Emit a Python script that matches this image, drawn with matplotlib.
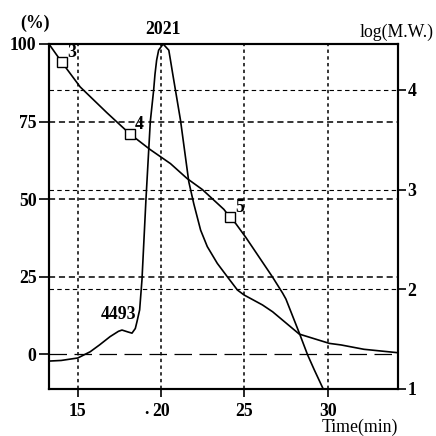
import matplotlib
matplotlib.use("Agg")
import matplotlib.pyplot as plt

plt.rcParams["font.family"] = ["Liberation Serif", "DejaVu Serif"]

# GPC trace (% response vs elution time)
trace_t = [13.27, 14.0, 15.0, 15.74, 16.3, 16.94, 17.44, 17.65, 18.0, 18.25,
           18.45, 18.55, 18.71, 18.85, 19.09, 19.35, 19.55, 19.63, 19.73,
           19.85, 20.12, 20.46, 20.56, 20.7, 20.86, 21.16, 21.66, 21.96,
           22.37, 22.77, 23.37, 23.97, 24.58, 24.98, 26.08, 26.69, 28.29,
           30.1, 30.8, 32.17, 34.2]
trace_pct = [-2.2, -2.0, -1.2, 0.8, 3.0, 5.7, 7.4, 7.8, 7.2, 6.8,
             8.3, 10.5, 14.3, 24.0, 50.0, 75.0, 85.1, 90.2, 94.8,
             98.0, 100.0, 98.0, 94.8, 90.2, 85.1, 75.5, 55.6, 48.5,
             40.0, 34.7, 29.3, 25.0, 20.7, 19.1, 15.9, 13.7, 6.5,
             3.5, 3.0, 1.6, 0.5]

# calibration curve log(M.W.) vs time
calib_t = [13.27, 14.03, 15.14, 16.75, 18.11, 19.35, 20.56, 21.56, 22.47,
           23.77, 24.13, 24.47, 25.08, 26.69, 27.29, 27.49, 28.29, 28.79,
           29.19, 29.72]
calib_logmw = [4.46, 4.28, 4.03, 3.77, 3.56, 3.40, 3.26, 3.11, 3.0,
               2.80, 2.72, 2.66, 2.52, 2.12, 1.96, 1.90, 1.56, 1.34,
               1.19, 1.0]

# standards marked with squares
std_labels = ["3", "4", "5"]
std_t = [14.03, 18.11, 24.13]
std_logmw = [4.28, 3.56, 2.72]

peak_labels = ["2021", "4493"]
peak_t = [20.12, 17.44]
peak_pct = [100.0, 12.7]

x_ticks = [15, 20, 25, 30]
pct_ticks = [0, 25, 50, 75, 100]
log_ticks = [1, 2, 3, 4]

fig = plt.figure(figsize=(4.36, 4.36), dpi=100)
ax = fig.add_axes([0.1124, 0.1085, 0.7998, 0.7906])
ax2 = ax.twinx()

ax.set_xlim(13.27, 34.2)
ax.set_ylim(-11.1, 100)
ax2.set_ylim(1, 4.461)

num_font = dict(fontsize=12.8, fontweight="bold")

# reference lines
for v in x_ticks:
    ax.axvline(v, color="black", lw=1.1, dashes=(2.2, 2.2), zorder=1)
for v in pct_ticks[1:-1]:
    ax.axhline(v, color="black", lw=1.1, dashes=(4, 2.5), zorder=1)
ax.axhline(pct_ticks[0], color="black", lw=0.9, dashes=(14, 6), zorder=1)
for v in log_ticks[1:]:
    ax2.axhline(v, color="black", lw=0.8, dashes=(4, 3), zorder=1)

ax.plot(trace_t, trace_pct, color="black", lw=1.2, zorder=3)
ax2.plot(calib_t, calib_logmw, color="black", lw=1.2, zorder=3)
ax2.plot(std_t, std_logmw, ls="none", marker="s", ms=6.5, mfc="white",
         mec="black", mew=1.0, zorder=4)
for lab, t, y in zip(std_labels, std_t, std_logmw):
    ax2.annotate(lab, (t, y), xytext=(7, 7), textcoords="offset points",
                 ha="center", va="center", **num_font)

ax.annotate(peak_labels[0], (peak_t[0], peak_pct[0]), xytext=(0, 4),
            textcoords="offset points", ha="center", va="bottom",
            annotation_clip=False, **num_font)
ax.text(peak_t[1], peak_pct[1], peak_labels[1], ha="center", va="center",
        **num_font)

ax.set_xticks(x_ticks)
ax.set_xticklabels([str(v) for v in x_ticks])
ax.set_yticks(pct_ticks)
ax.set_yticklabels([str(v) for v in pct_ticks])
ax2.set_yticks(log_ticks)
ax2.set_yticklabels([str(v) for v in log_ticks])

ax.tick_params(axis="x", direction="out", length=6, width=1.2, pad=4)
ax.tick_params(axis="y", direction="out", length=7, width=1.2, pad=2)
ax2.tick_params(axis="y", direction="out", length=6, width=1.2, pad=1)
for lab in ax.get_xticklabels() + ax.get_yticklabels() + ax2.get_yticklabels():
    lab.set_fontsize(12.8)
    lab.set_fontweight("bold")

for a in (ax, ax2):
    for sp in a.spines.values():
        sp.set_linewidth(1.5)

# stray dot left of the "20" tick label
ax.text(19.12, -19.3, ".", ha="center", va="baseline", clip_on=False,
        **num_font)

fig.text(35 / 436, 1 - 23 / 436, "(%)", ha="center", va="center", **num_font)
fig.text(397 / 436, 1 - 32 / 436, "log(M.W.)", ha="center", va="center",
         fontsize=12.8)
fig.text(360 / 436, 1 - 427 / 436, "Time(min)", ha="center", va="center",
         fontsize=12.8)

fig.savefig("out.png", dpi=100)
